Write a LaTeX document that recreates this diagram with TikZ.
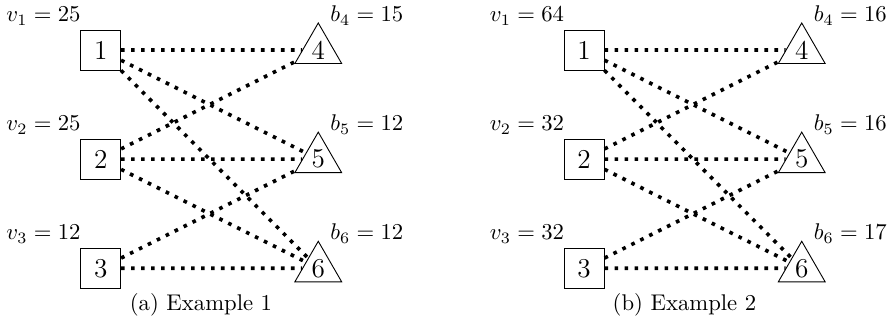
\documentclass[tikz,border=0pt]{standalone}
\usepackage{amsmath,amssymb}
\usepackage{xcolor}
\usepackage{tikz}
\usetikzlibrary{positioning,shapes.geometric}

\begin{document}
\begin{tikzpicture}[
  buyer/.style={draw, rectangle, minimum size=17.6pt, inner sep=0pt, font=\large},
  seller/.style={draw, regular polygon, regular polygon sides=3, minimum size=23.8pt, inner sep=0pt, font=\large},
  val/.style={anchor=base east, inner sep=0pt},
  bud/.style={anchor=base west, inner sep=0pt},
  link/.style={line width=1.6pt, dash pattern=on 1.6pt off 2.8pt}
]
\useasboundingbox (0,0) rectangle (13.796,-5.016);

% (a) Example 1
\node[buyer]  (a1) at (1.559,-0.774) {1};
\node[buyer]  (a2) at (1.559,-2.464) {2};
\node[buyer]  (a3) at (1.559,-4.154) {3};
\node[seller] (a4) at (4.928,-0.774) {4};
\node[seller] (a5) at (4.928,-2.464) {5};
\node[seller] (a6) at (4.928,-4.154) {6};
\node[val] (a1val) at (1.254,-0.335) {$v_1 = 25$};
\node[val] (a2val) at (1.254,-2.025) {$v_2 = 25$};
\node[val] (a3val) at (1.254,-3.715) {$v_3 = 12$};
\node[bud] (a4val) at (5.109,-0.335) {$b_4 = 15$};
\node[bud] (a5val) at (5.109,-2.025) {$b_5 = 12$};
\node[bud] (a6val) at (5.109,-3.715) {$b_6 = 12$};
\node[anchor=base] (capa) at (3.112,-4.80) {(a) Example 1};

\draw[link] (a1) -- (a4);
\draw[link] (a1) -- (a5);
\draw[link] (a1) -- (a6);
\draw[link] (a2) -- (a4);
\draw[link] (a2) -- (a5);
\draw[link] (a2) -- (a6);
\draw[link] (a3) -- (a5);
\draw[link] (a3) -- (a6);

% (b) Example 2
\node[buyer]  (b1) at (9.045,-0.774) {1};
\node[buyer]  (b2) at (9.045,-2.464) {2};
\node[buyer]  (b3) at (9.045,-4.154) {3};
\node[seller] (b4) at (12.414,-0.774) {4};
\node[seller] (b5) at (12.414,-2.464) {5};
\node[seller] (b6) at (12.414,-4.154) {6};
\node[val] (b1val) at (8.740,-0.335) {$v_1 = 64$};
\node[val] (b2val) at (8.740,-2.025) {$v_2 = 32$};
\node[val] (b3val) at (8.740,-3.715) {$v_3 = 32$};
\node[bud] (b4val) at (12.595,-0.335) {$b_4 = 16$};
\node[bud] (b5val) at (12.595,-2.025) {$b_5 = 16$};
\node[bud] (b6val) at (12.595,-3.715) {$b_6 = 17$};
\node[anchor=base] (capb) at (10.598,-4.80) {(b) Example 2};

\draw[link] (b1) -- (b4);
\draw[link] (b1) -- (b5);
\draw[link] (b1) -- (b6);
\draw[link] (b2) -- (b4);
\draw[link] (b2) -- (b5);
\draw[link] (b2) -- (b6);
\draw[link] (b3) -- (b5);
\draw[link] (b3) -- (b6);
\end{tikzpicture}
\end{document}
